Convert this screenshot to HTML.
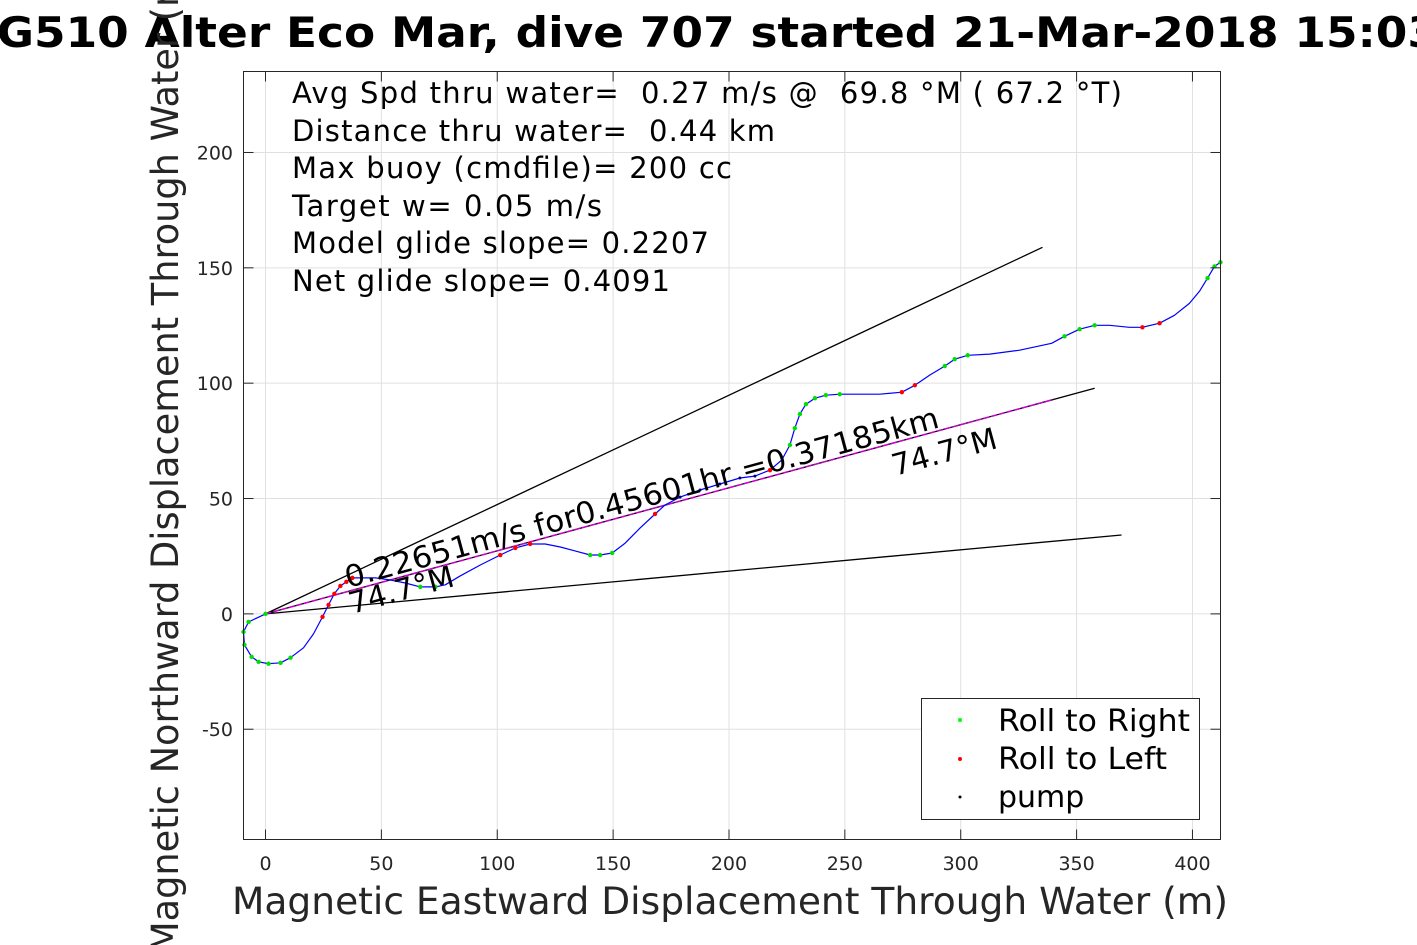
<!DOCTYPE html>
<html><head><meta charset="utf-8"><style>
html,body{margin:0;padding:0;background:#fff;}
svg{display:block;font-family:"DejaVu Sans","Liberation Sans",sans-serif;}
text{white-space:pre;}
</style></head><body>
<svg id="chart" width="1417" height="945" viewBox="0 0 1417 945">
<rect x="0" y="0" width="1417" height="945" fill="#fff"/>
<g id="grid"></g>
<g id="plot"></g>
<rect x="243.5" y="71.5" width="977" height="768" fill="none" stroke="#262626" stroke-width="1"/>
<g id="ticks"></g>
<text x="-36" y="47" font-size="42" font-weight="bold" textLength="1475" lengthAdjust="spacingAndGlyphs">SG510 Alter Eco Mar, dive 707 started 21-Mar-2018 15:03</text>
<text x="730" y="914" font-size="37" fill="#262626" text-anchor="middle" textLength="996" lengthAdjust="spacingAndGlyphs">Magnetic Eastward Displacement Through Water (m)</text>
<text transform="translate(178,455) rotate(-90)" font-size="37" fill="#262626" text-anchor="middle" textLength="996" lengthAdjust="spacingAndGlyphs">Magnetic Northward Displacement Through Water (m)</text>
<g font-size="29" fill="#000">
<text x="292" y="103" textLength="830" lengthAdjust="spacing">Avg Spd thru water=  0.27 m/s @  69.8 °M ( 67.2 °T)</text>
<text x="292" y="141" textLength="483" lengthAdjust="spacing">Distance thru water=  0.44 km</text>
<text x="292" y="178" textLength="440" lengthAdjust="spacing">Max buoy (cmdfile)= 200 cc</text>
<text x="292" y="216" textLength="310" lengthAdjust="spacing">Target w= 0.05 m/s</text>
<text x="292" y="253" textLength="417" lengthAdjust="spacing">Model glide slope= 0.2207</text>
<text x="292" y="291" textLength="378" lengthAdjust="spacing">Net glide slope= 0.4091</text>
</g>
<g id="annot" font-size="30" fill="#000">
<text transform="translate(348,588) rotate(-15.2)" textLength="614" lengthAdjust="spacingAndGlyphs">0.22651m/s for0.45601hr =0.37185km</text>
<text transform="translate(352,614) rotate(-15.2)">74.7°M</text>
<text transform="translate(895,476) rotate(-15.2)">74.7°M</text>
</g>
<g>
<rect x="921.5" y="698.5" width="278" height="121" fill="#fff" stroke="#262626" stroke-width="1"/>
<circle cx="960" cy="720" r="2" fill="#00ff00"/>
<text x="998" y="731" font-size="30" textLength="192" lengthAdjust="spacingAndGlyphs">Roll to Right</text>
<circle cx="960" cy="759" r="2" fill="#ff0000"/>
<text x="998" y="769" font-size="30" textLength="169" lengthAdjust="spacingAndGlyphs">Roll to Left</text>
<circle cx="960" cy="797" r="1.5" fill="#000"/>
<text x="998" y="807" font-size="30">pump</text>
</g>
</svg>
<script>
const trackX = [0,-7.3,-9.5,-9.1,-6.0,-3.0,1.3,6.5,10.8,16.4,20.7,24.6,27.2,29.7,32.3,34.9,37.5,40.9,47.4,53.9,60.3,66.8,73.3,77.6,84.1,92.7,101.3,107.8,114.2,120.7,127.2,133.6,140.1,144.4,149.6,155.2,161.6,168.1,172.4,178.9,187.5,196.1,204.7,211.2,217.7,222.8,226.3,228.4,230.6,233.2,237.1,241.8,247.8,256.5,265.1,274.6,280.2,286.6,293.1,297.4,303.0,312.5,325.4,339.2,344.8,351.3,357.8,364.2,372.8,378.4,385.8,392.2,398.7,403.0,406.5,409.5,412.1];
const trackY = [0,-3.5,-7.8,-13.4,-18.6,-20.8,-21.6,-21.2,-19.0,-14.7,-8.7,-1.3,3.9,8.7,12.1,13.9,15.6,15.6,15.6,14.7,13.4,11.7,11.7,12.6,16.5,21.2,25.5,28.6,30.3,30.3,29.0,27.3,25.5,25.5,26.4,30.7,37.2,43.3,47.2,50.6,53.7,56.3,58.9,59.7,62.3,66.7,73.2,80.5,86.6,90.9,93.5,94.8,95.2,95.2,95.2,96.1,99.1,103.5,107.4,110.4,112.1,112.6,114.3,117.3,120.3,123.4,125.1,125.1,124.2,124.2,126.0,129.4,134.6,139.8,145.5,150.6,152.4];
// marker type per point: g=roll right, r=roll left, p=pump, n=none
const markerType = "gggggggggnnrrrrrrnnnnggnnnrrrnnngggnnrnppppprngggggggnnrrngggnnngggnnrrnnnggg".split("");
const xTicks = [0,50,100,150,200,250,300,350,400];
const yTicks = [-50,0,50,100,150,200];
const upperLineEnd = [335.3,158.9];
const lowerLineEnd = [369.4,34.2];
const headingLineEnd = [357.8,97.8];

const NS="http://www.w3.org/2000/svg";
const X0=243.5,X1=1220.5,Y0=71.5,Y1=839.5;
const xMin=-9.5,xMax=412.1,yMin=-97.8,yMax=235.1;
function sx(v){return X0+(v-xMin)/(xMax-xMin)*(X1-X0);}
function sy(v){return Y1-(v-yMin)/(yMax-yMin)*(Y1-Y0);}
function mk(tag,attrs,parent){const e=document.createElementNS(NS,tag);for(const k in attrs)e.setAttribute(k,attrs[k]);parent.appendChild(e);return e;}
const grid=document.getElementById('grid'),plot=document.getElementById('plot'),ticks=document.getElementById('ticks');
xTicks.forEach(t=>{
  const x=sx(t);
  const g=mk('line',{x1:x,x2:x,y1:Y0,y2:Y1,stroke:'#e0e0e0','stroke-width':1},grid);
  
  
  mk('line',{x1:x,x2:x,y1:Y1,y2:Y1-10,stroke:'#262626'},ticks);
  mk('line',{x1:x,x2:x,y1:Y0,y2:Y0+10,stroke:'#262626'},ticks);
  const lb=mk('text',{x:x,y:870,'font-size':19,'text-anchor':'middle',fill:'#262626'},ticks);
  lb.textContent=t;
  
  
});
yTicks.forEach(t=>{
  const y=sy(t);
  const g=mk('line',{x1:X0,x2:X1,y1:y,y2:y,stroke:'#e0e0e0','stroke-width':1},grid);
  
  
  mk('line',{x1:X0,x2:X0+10,y1:y,y2:y,stroke:'#262626'},ticks);
  mk('line',{x1:X1,x2:X1-10,y1:y,y2:y,stroke:'#262626'},ticks);
  const lb=mk('text',{x:233,y:y+7,'font-size':19,'text-anchor':'end',fill:'#262626'},ticks);
  lb.textContent=t;
  
  
});
function seg(end,color,w,name){
  const l=mk('line',{x1:sx(0),y1:sy(0),x2:sx(end[0]),y2:sy(end[1]),stroke:color,'stroke-width':w},plot);
  
  
}
seg(upperLineEnd,'#000',1.3,'upper-glide-line');
seg(lowerLineEnd,'#000',1.3,'lower-glide-line');
seg(headingLineEnd,'#000',1.3,'heading-line');
const hm=mk('line',{x1:sx(0),y1:sy(0),x2:sx(headingLineEnd[0]*0.95),y2:sy(headingLineEnd[1]*0.95),stroke:'#d000d0','stroke-width':1.5,'stroke-dasharray':'6 2'},plot);


let d='';
trackX.forEach((v,i)=>{d+=(i?'L':'M')+sx(v).toFixed(1)+','+sy(trackY[i]).toFixed(1);});
const tr=mk('path',{d:d,fill:'none',stroke:'#0000ff','stroke-width':1.2,'stroke-linejoin':'round'},plot);


const colors={g:'#00e000',r:'#ff0000',p:'#000080'};
trackX.forEach((v,i)=>{
  const t=markerType[i];
  if(!t||t==='n')return;
  const c=mk('circle',{cx:sx(v),cy:sy(trackY[i]),r:t==='p'?1.5:2.2,fill:colors[t]},plot);
  
  
});
</script>
</body></html>
